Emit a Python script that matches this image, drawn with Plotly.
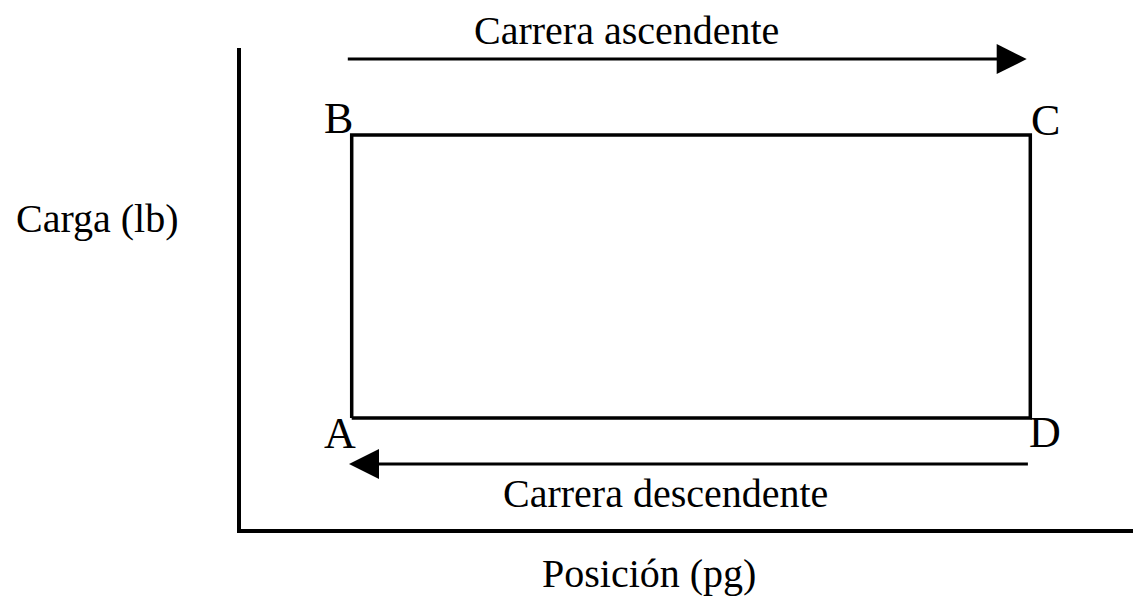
"""Diagrama carga-posición de una carta dinamométrica ideal."""

import plotly.graph_objects as go

# Ciclo ideal A -> B -> C -> D -> A (posición en %, carga en %)
puntos = ["A", "B", "C", "D"]
posicion = [12.3, 12.3, 87.7, 87.7]
carga = [23.1, 81.9, 81.9, 23.1]

# Flechas de carrera: [inicio, fin] en posición, y su nivel de carga
carrera_asc_x = [11.7, 87.3]
carrera_asc_y = 97.7
carrera_desc_x = [87.6, 12.0]
carrera_desc_y = 13.5

titulo_asc = "Carrera ascendente"
titulo_desc = "Carrera descendente"
eje_x = "Posición (pg)"
eje_y = "Carga (lb)"

FONT = "Liberation Serif, Times New Roman, serif"

fig = go.Figure()

# rectángulo del ciclo
fig.add_trace(
    go.Scatter(
        x=posicion + posicion[:1],
        y=carga + carga[:1],
        mode="lines",
        line=dict(color="black", width=3.5),
        hoverinfo="skip",
        showlegend=False,
    )
)

# flechas
for xs, yv in [(carrera_asc_x, carrera_asc_y), (carrera_desc_x, carrera_desc_y)]:
    fig.add_annotation(
        x=xs[1], y=yv, ax=xs[0], ay=yv,
        xref="x", yref="y", axref="x", ayref="y",
        text="", showarrow=True,
        arrowhead=2, arrowwidth=3, arrowsize=2, arrowcolor="black",
    )

# letras de las esquinas
shifts = {"A": (-12, -16), "B": (-13, 17), "C": (15, 15), "D": (15, -15)}
for p, x, y in zip(puntos, posicion, carga):
    dx, dy = shifts[p]
    fig.add_annotation(
        x=x, y=y, text=p, showarrow=False,
        xshift=dx, yshift=dy,
        font=dict(family=FONT, size=44, color="black"),
    )

# textos fuera del área de trazado (coordenadas de papel)
txt = dict(family=FONT, size=40, color="black")
for texto, px, py in [
    (titulo_asc, 0.428, 1.036),
    (titulo_desc, 0.472, 0.074),
    (eje_x, 0.453, -0.092),
    (eje_y, -0.159, 0.645),
]:
    fig.add_annotation(
        x=px, y=py, xref="paper", yref="paper",
        xanchor="center", yanchor="middle",
        text=texto, showarrow=False, font=txt,
    )

axis = dict(
    range=[0, 100], showline=True, linewidth=3.5, linecolor="black",
    showgrid=False, zeroline=False, showticklabels=False, ticks="",
    fixedrange=True,
)
fig.update_layout(
    width=1133, height=592,
    margin=dict(l=233, r=0, t=40, b=71),
    plot_bgcolor="white", paper_bgcolor="white",
    xaxis=axis, yaxis=axis,
)

fig.write_html("out.html")
